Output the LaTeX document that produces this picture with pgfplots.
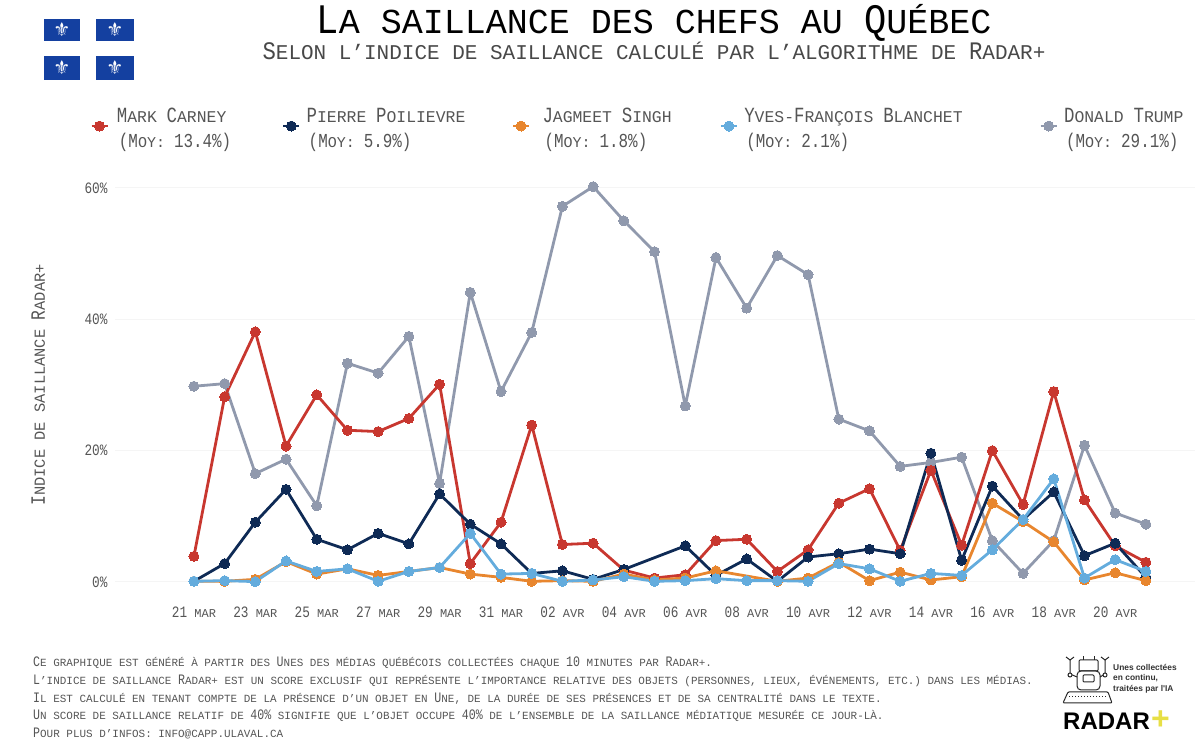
\documentclass[border=0pt]{standalone}
\usepackage{fontspec}
\usepackage{pgfplots}
\pgfplotsset{compat=1.18}
\setmainfont{Liberation Mono}
\newfontfamily\sansf{Liberation Sans}
\newfontfamily\symf{DejaVu Sans}

\definecolor{carney}{HTML}{C8372F}
\definecolor{poil}{HTML}{0E2A55}
\definecolor{singh}{HTML}{E8862E}
\definecolor{blanchet}{HTML}{64ACDD}
\definecolor{trump}{HTML}{9099AD}
\definecolor{qcblue}{HTML}{1440A0}
\definecolor{txt}{HTML}{555555}

% fake small caps: capitals and digits are stretched upward
\newcommand\C[1]{\scalebox{1.06}[1.32]{#1}}
\newcommand\tk[2]{\C{#1} #2}
\newcommand\leg[4]{\hspace{#1pt}\raisebox{10pt}{\parbox[c]{#2pt}{\fontsize{16.4}{25}\selectfont\color{txt}#3\\[0pt]\hspace*{2pt}{\fontsize{15}{25}\selectfont #4}}}}

\begin{document}
\begin{tikzpicture}
\path[use as bounding box] (0,0) rectangle (1200pt,749pt);
\begin{axis}[
    at={(115pt,153.9pt)}, anchor=south west,
    scale only axis, width=1080pt, height=420.3pt,
    xmin=-2.57, xmax=32.6, ymin=-2, ymax=62,
    axis lines=none, hide axis=false,
    axis line style={draw=none}, tick style={draw=none},
    clip=false,
    ymajorgrids, y grid style={color=black!4, line width=1pt},
    xtick={0,2,...,30},
    xticklabels={\tk{21}{MAR},\tk{23}{MAR},\tk{25}{MAR},\tk{27}{MAR},\tk{29}{MAR},\tk{31}{MAR},\tk{02}{AVR},\tk{04}{AVR},\tk{06}{AVR},\tk{08}{AVR},\tk{10}{AVR},\tk{12}{AVR},\tk{14}{AVR},\tk{16}{AVR},\tk{18}{AVR},\tk{20}{AVR}},
    ytick={0,20,40,60},
    yticklabels={\C{0\%},\C{20\%},\C{40\%},\C{60\%}},
    xticklabel style={font=\fontsize{12}{12}\selectfont, text=txt, anchor=base, yshift=-22pt},
    yticklabel style={font=\fontsize{12}{12}\selectfont, text=txt, anchor=east, xshift=-4pt},
    every axis y label/.style={at={(axis description cs:-0.071,0.5)},rotate=90,anchor=center},
    ylabel={\fontsize{15.4}{16}\selectfont\color{txt}\C{I}NDICE DE SAILLANCE \C{R}ADAR+},
    legend columns=5,
    legend cell align=left,
    legend style={at={(-0.026,1.116)}, anchor=west, draw=none, fill=none,
        nodes={inner xsep=0pt, inner ysep=0pt}, cells={anchor=west}},
    legend image code/.code={\draw[mark repeat=2,mark phase=2,#1] plot coordinates {(0pt,0pt)(8pt,0pt)(16pt,0pt)};},
    every axis plot/.append style={line width=2.8pt, mark=*, mark size=5pt, line join=round},
]
% Trump
\addplot[trump, mark options={fill=trump,draw=trump,line width=0pt}, forget plot] coordinates {
(0,29.8)(1,30.2)(2,16.5)(3,18.7)(4,11.6)(5,33.3)(6,31.8)(7,37.4)(8,15)(9,44.1)(10,29)(11,38)(12,57.2)(13,60.2)(14,55)(15,50.3)
(16,26.8)(17,49.4)(18,41.7)(19,49.7)(20,46.8)(21,24.8)(22,23)(23,17.6)(24,18.2)(25,19)(26,6.3)(27,1.3)(28,6.3)(29,20.8)(30,10.5)(31,8.8)};
% Carney
\addplot[carney, mark options={fill=carney,draw=carney,line width=0pt}, forget plot] coordinates {
(0,3.9)(1,28.2)(2,38.1)(3,20.7)(4,28.5)(5,23.1)(6,22.9)(7,24.9)(8,30.1)(9,2.8)(10,9.1)(11,23.9)(12,5.7)(13,5.9)(14,1.8)(15,0.6)
(16,1.1)(17,6.3)(18,6.5)(19,1.6)(20,4.9)(21,12)(22,14.2)(23,4.8)(24,17)(25,5.6)(26,20)(27,11.8)(28,29)(29,12.5)(30,5.5)(31,3)};
% Poilievre (pas de point le 5 avril)
\addplot[poil, mark options={fill=poil,draw=poil,line width=0pt}, forget plot] coordinates {
(0,0.1)(1,2.8)(2,9.1)(3,14.1)(4,6.5)(5,4.9)(6,7.4)(7,5.8)(8,13.4)(9,8.8)(10,5.8)(11,1.3)(12,1.7)(13,0.4)(14,1.9)
(16,5.5)(17,1)(18,3.5)(19,0.1)(20,3.8)(21,4.3)(22,5)(23,4.3)(24,19.6)(25,3.3)(26,14.6)(27,9.5)(28,13.7)(29,4)(30,5.9)(31,0.7)};
% Singh (pas de point le 8 avril)
\addplot[singh, mark options={fill=singh,draw=singh,line width=0pt}, forget plot] coordinates {
(0,0.1)(1,0.1)(2,0.4)(3,3.1)(4,1.2)(5,2)(6,1)(7,1.6)(8,2.2)(9,1.2)(10,0.7)(11,0.1)(12,0.2)(13,0.1)(14,1.2)(15,0.3)
(16,0.6)(17,1.7)(19,0.1)(20,0.6)(21,3)(22,0.2)(23,1.5)(24,0.3)(25,0.8)(26,12)(27,9.2)(28,6.1)(29,0.3)(30,1.4)(31,0.2)};
% Blanchet
\addplot[blanchet, mark options={fill=blanchet,draw=blanchet,line width=0pt}, forget plot] coordinates {
(0,0.1)(1,0.2)(2,0.05)(3,3.2)(4,1.6)(5,2)(6,0.1)(7,1.6)(8,2.2)(9,7.4)(10,1.2)(11,1.3)(12,0.1)(13,0.3)(14,0.8)(15,0.1)
(16,0.2)(17,0.5)(18,0.2)(19,0.2)(20,0.1)(21,2.8)(22,2)(23,0.1)(24,1.3)(25,1)(26,4.9)(27,9.5)(28,15.7)(29,0.6)(30,3.4)(31,1.6)};

\addlegendimage{carney, line width=2.8pt, mark=*, mark size=5pt, mark options={fill=carney,draw=carney,line width=0pt}}
\addlegendentry{\leg{8}{165}{\C{M}ARK \C{C}ARNEY}{\C{(M}OY: \C{13.4\%)}}}
\addlegendimage{poil, line width=2.8pt, mark=*, mark size=5pt, mark options={fill=poil,draw=poil,line width=0pt}}
\addlegendentry{\leg{6}{205}{\C{P}IERRE \C{P}OILIEVRE}{\C{(M}OY: \C{5.9\%)}}}
\addlegendimage{singh, line width=2.8pt, mark=*, mark size=5pt, mark options={fill=singh,draw=singh,line width=0pt}}
\addlegendentry{\leg{12}{177}{\C{J}AGMEET \C{S}INGH}{\C{(M}OY: \C{1.8\%)}}}
\addlegendimage{blanchet, line width=2.8pt, mark=*, mark size=5pt, mark options={fill=blanchet,draw=blanchet,line width=0pt}}
\addlegendentry{\leg{6}{295}{\C{Y}VES-\C{F}RANÇOIS \C{B}LANCHET}{\C{(M}OY: \C{2.1\%)}}}
\addlegendimage{trump, line width=2.8pt, mark=*, mark size=5pt, mark options={fill=trump,draw=trump,line width=0pt}}
\addlegendentry{\leg{6}{125}{\C{D}ONALD \C{T}RUMP}{\C{(M}OY: \C{29.1\%)}}}
\end{axis}

% reste de la page, en pixels de la reference
\begin{scope}[x=1pt,y=-1pt,yshift=749pt]
  % titre
  \node[anchor=base, text=black, inner sep=0pt] at (654,34) {\fontsize{35}{35}\selectfont \scalebox{1.06}[1.2]{L}A SAILLANCE DES CHEFS AU \scalebox{1.06}[1.2]{Q}UÉBEC};
  \node[anchor=base, text=txt!85!black, inner sep=0pt] at (654,60) {\fontsize{21}{21}\selectfont \scalebox{1.06}[1.2]{S}ELON L'INDICE DE SAILLANCE CALCULÉ PAR L'ALGORITHME DE \scalebox{1.06}[1.2]{R}ADAR+};
  % drapeau
  \foreach \xa/\xb in {44/80,96/134} \foreach \ya/\yb in {19/41,56/80} {
    \fill[qcblue] (\xa,\ya) rectangle (\xb,\yb);
    \node[white, inner sep=0pt] at ({(\xa+\xb)/2},{(\ya+\yb)/2}) {\symf\fontsize{19}{19}\selectfont ⚜};
  }
  % notes
  \node[anchor=north west, align=left, text=txt, inner sep=0pt, font=\fontsize{10.95}{17.6}\selectfont] at (33,657) {%
    \C{C}E GRAPHIQUE EST GÉNÉRÉ À PARTIR DES \C{U}NES DES MÉDIAS QUÉBÉCOIS COLLECTÉES CHAQUE \C{10} MINUTES PAR \C{R}ADAR+.\\
    \C{L}'INDICE DE SAILLANCE \C{R}ADAR+ EST UN SCORE EXCLUSIF QUI REPRÉSENTE L'IMPORTANCE RELATIVE DES OBJETS (PERSONNES, LIEUX, ÉVÉNEMENTS, ETC.) DANS LES MÉDIAS.\\
    \C{I}L EST CALCULÉ EN TENANT COMPTE DE LA PRÉSENCE D'UN OBJET EN \C{U}NE, DE LA DURÉE DE SES PRÉSENCES ET DE SA CENTRALITÉ DANS LE TEXTE.\\
    \C{U}N SCORE DE SAILLANCE RELATIF DE \C{40\%} SIGNIFIE QUE L'OBJET OCCUPE \C{40\%} DE L'ENSEMBLE DE LA SAILLANCE MÉDIATIQUE MESURÉE CE JOUR-LÀ.\\
    \C{P}OUR PLUS D'INFOS: INFO@CAPP.ULAVAL.CA};
  % logo
  \begin{scope}[line width=1pt, draw=black!85]
    \draw[rounded corners=1pt] (1079,660) rectangle (1098,671);
    \draw[rounded corners=4pt] (1077,671) rectangle (1100,690);
    \draw[rounded corners=1pt] (1083,675) rectangle (1094,682);
    \draw (1083,660) -- (1083,656) (1094,660) -- (1094,656);
    \draw (1077,677) -- (1070,674) -- (1070,660) (1100,677) -- (1105,674) -- (1105,660);
    \filldraw[fill=white] (1070,675) circle (2) (1105,675) circle (2);
    \draw (1066,657) -- (1070,660) -- (1074,657) (1101,657) -- (1105,660) -- (1109,657);
    \draw[rounded corners=1pt] (1063,703) -- (1068,692) -- (1108,692) -- (1112,703) -- cycle;
    \draw[dotted] (1069,697) -- (1107,697);
  \end{scope}
  \node[anchor=north west, align=left, inner sep=0pt, text=black!80, font=\sansf\bfseries\fontsize{8.4}{10.4}\selectfont] at (1113,664) {Unes collectées\\en continu,\\traitées par l'IA};
  \node[anchor=base west, inner sep=0pt, text=black] at (1063,730) {\sansf\bfseries\fontsize{24}{24}\selectfont RADAR};
  \node[anchor=base west, inner sep=0pt, text=yellow!70!olive!70!white] at (1151,730) {\sansf\bfseries\fontsize{32}{32}\selectfont +};
\end{scope}
\end{tikzpicture}
\end{document}
